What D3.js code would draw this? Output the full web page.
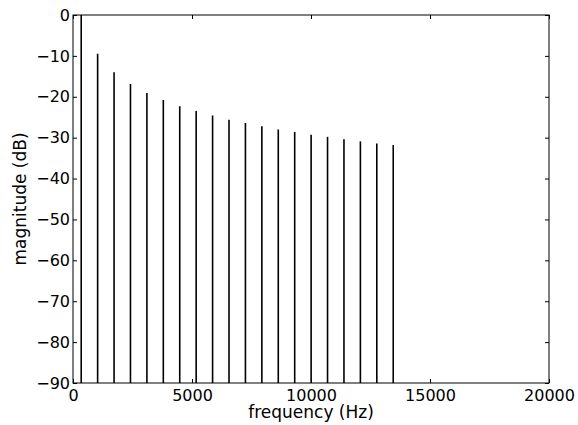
<!DOCTYPE html>
<html><head><meta charset="utf-8">
<script src="https://cdn.jsdelivr.net/npm/d3@7"></script>
<style>body{margin:0;background:#fff}svg{display:block}text{font-family:"DejaVu Sans",sans-serif}</style>
</head><body>
<svg id="c" width="578" height="425"></svg>
<script>
const frequencies = [345, 1035, 1725, 2415, 3105, 3795, 4485, 5175, 5865, 6555, 7245, 7935, 8625, 9315, 10005, 10695, 11385, 12075, 12765, 13455];
const magnitudes = [0, -9.5, -14.0, -16.9, -19.1, -20.8, -22.3, -23.5, -24.6, -25.6, -26.4, -27.2, -28.0, -28.6, -29.3, -29.8, -30.4, -30.9, -31.4, -31.8];
const xTicks = [0, 5000, 10000, 15000, 20000];
const yTicks = [0, -10, -20, -30, -40, -50, -60, -70, -80, -90];
const xLabel = "frequency (Hz)";
const yLabel = "magnitude (dB)";

const m = {l: 73, r: 549, t: 15, b: 383};
const svg = d3.select("#c");
const x = d3.scaleLinear().domain([0, 20000]).range([m.l, m.r]);
const y = d3.scaleLinear().domain([-90, 0]).range([m.b, m.t]);
const fs = 16;
const lfs = 17;
const fmt = d => d < 0 ? "\u2212" + Math.abs(d) : String(d);

// stems
svg.append("g").selectAll("line").data(frequencies).join("line")
  .attr("x1", d => x(d)).attr("x2", d => x(d))
  .attr("y1", (d, i) => y(magnitudes[i])).attr("y2", y(-90))
  .attr("stroke", "#000").attr("stroke-width", 1.6);

// frame
svg.append("rect").attr("x", m.l).attr("y", m.t).attr("width", m.r - m.l).attr("height", m.b - m.t)
  .attr("fill", "none").attr("stroke", "#000").attr("stroke-width", 1);

// axes with inward ticks
const gB = svg.append("g").attr("transform", `translate(0,${m.b})`)
  .call(d3.axisBottom(x).tickValues(xTicks).tickSize(-4).tickPadding(7).tickFormat(fmt));
const gT = svg.append("g").attr("transform", `translate(0,${m.t})`)
  .call(d3.axisTop(x).tickValues(xTicks).tickSize(-4).tickFormat(""));
const gL = svg.append("g").attr("transform", `translate(${m.l},0)`)
  .call(d3.axisLeft(y).tickValues(yTicks).tickSize(-4).tickPadding(3).tickFormat(fmt));
const gR = svg.append("g").attr("transform", `translate(${m.r},0)`)
  .call(d3.axisRight(y).tickValues(yTicks).tickSize(-4).tickFormat(""));
[gB, gT, gL, gR].forEach(g => {
  g.select(".domain").remove();
  g.selectAll("line").attr("stroke", "#000");
  g.selectAll("text").attr("font-size", fs).attr("fill", "#000").attr("font-family", "DejaVu Sans");
});

svg.append("text").attr("x", (m.l + m.r) / 2).attr("y", 418)
  .attr("text-anchor", "middle").attr("font-size", lfs).text(xLabel);
svg.append("text").attr("transform", `translate(26,${(m.t + m.b) / 2}) rotate(-90)`)
  .attr("text-anchor", "middle").attr("font-size", lfs).text(yLabel);
</script>
</body></html>
